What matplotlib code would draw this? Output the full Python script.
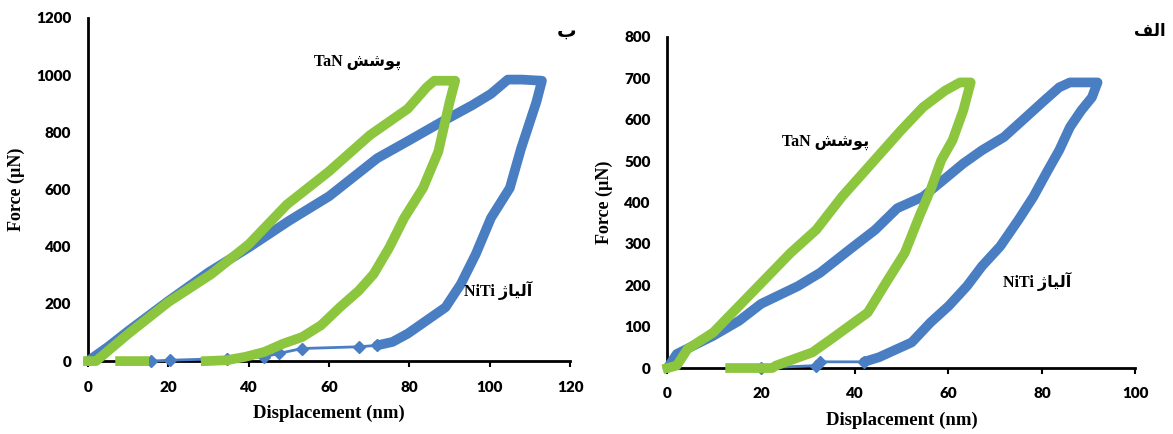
import numpy as np
import matplotlib.pyplot as plt

# ---- data ----
# panel b (left)
b_niti_x = [0, 5, 10, 20, 30, 40, 50, 60, 72, 80, 88, 95.6, 100.3, 104.5, 108, 113,
            111.6, 107.8, 105, 100.3, 96.5, 92.8, 89, 84.3, 79.6, 75.8, 72, 67.4, 53.3,
            47.6, 43.9, 34.5, 20.4, 15.7]
b_niti_y = [0, 50, 105, 210, 310, 397, 490, 576, 709, 772, 836, 894, 934, 984, 984, 980,
            905, 743, 605, 500, 373, 269, 188, 142, 96, 67, 55, 50, 44,
            27, 15, 9, 3, 0]
b_tan_x = [0, 2, 10, 20, 30.7, 40, 49.5, 59.9, 70.2, 79.6, 84.3, 86.2, 91.4,
           90, 87.2, 83.4, 78.7, 75, 71.1, 67.4, 62.7, 58, 53.3, 48.6, 43.9, 39.2, 34.5, 29.3,
           np.nan, 14, 8]
b_tan_y = [0, 0, 95, 206, 304, 408, 547, 662, 790, 882, 957, 980, 980,
           905, 732, 605, 500, 397, 304, 246, 188, 125, 84, 61, 32, 15, 3, 0,
           np.nan, 0, 0]

# panel alef (right)
a_niti_x = [0, 2, 9.8, 15.3, 20, 27.9, 32.6, 38.9, 44.4, 49.1, 54.6, 58.5, 63.2, 67.2,
            71.9, 76.6, 80.5, 83.7, 86, 91.9,
            90.7, 88.4, 86, 83.7, 81.3, 78.2, 75, 71.1, 67.2, 64, 60.1, 56.2, 52.2, 48.3,
            45.2, 42, 32.6, 31.8, 20]
a_niti_y = [0, 34, 78, 114, 155, 198, 230, 286, 334, 386, 414, 450, 494, 526,
            558, 606, 646, 678, 690, 690,
            654, 622, 582, 526, 478, 414, 358, 294, 246, 198, 150, 110, 62, 42,
            26, 15, 15, 6, 0]
a_tan_x = [0, 2, 4.3, 9.8, 15.3, 20.8, 26.3, 31.8, 37.3, 43.6, 49.9, 54.6, 59.3, 62.5, 64.8,
           63.2, 60.9, 58.5, 56.2, 53.8, 50.7, 46.7, 42.8, 38.9, 35, 31, 27.1, 23.2, 22.4, 13.4]
a_tan_y = [0, 6, 46, 86, 150, 214, 278, 334, 414, 494, 574, 630, 670, 690, 690,
           622, 550, 502, 430, 366, 278, 206, 134, 102, 70, 38, 22, 6, 0, 0]

c_blue = '#4a7ec2'
c_green = '#8cc63f'

lbl_tan = 'TaN \ufeb6\ufeb7\ufeee\ufb58'
lbl_niti = 'NiTi \ufb8a\ufe8e\ufbff\ufedf\ufe81'
lbl_b = '\ufe8f'
lbl_alef = '\ufed2\ufedf\ufe8d'

txt_font = ['Liberation Serif', 'DejaVu Sans']

fig = plt.figure(figsize=(11.73, 4.34), dpi=100)
axL = fig.add_axes([0.075, 0.168, 0.411, 0.791])
axR = fig.add_axes([0.569, 0.152, 0.399, 0.763])


def style(ax, xmax, ymax, ystep):
    for s in ['top', 'right']:
        ax.spines[s].set_visible(False)
    for s in ['left', 'bottom']:
        ax.spines[s].set_linewidth(2)
        ax.spines[s].set_color('black')
    ax.set_xlim(0, xmax)
    ax.set_ylim(0, ymax)
    ax.set_xticks(np.arange(0, xmax + 1, 20))
    ax.set_yticks(np.arange(0, ymax + 1, ystep))
    ax.tick_params(axis='x', length=4, width=1.5, direction='out', pad=10)
    ax.tick_params(axis='y', length=0, pad=12)
    for t in ax.get_xticklabels() + ax.get_yticklabels():
        t.set_fontfamily('Lato')
        t.set_fontweight('heavy')
        t.set_fontsize(11)
    ax.set_xlabel('Displacement (nm)', family='Liberation Serif', weight='bold', fontsize=13.5, labelpad=8)
    ax.set_ylabel('Force (\u00b5N)', family='Liberation Serif', weight='bold', fontsize=13, labelpad=8)


# thick loop, thin tail with diamonds for the NiTi unloading end
for ax, nx, ny, tx, ty, cut in [(axL, b_niti_x, b_niti_y, b_tan_x, b_tan_y, 26),
                                (axR, a_niti_x, a_niti_y, a_tan_x, a_tan_y, 35)]:
    ax.plot(nx[:cut + 1], ny[:cut + 1], color=c_blue, lw=7, solid_joinstyle='round',
            solid_capstyle='round', clip_on=False, zorder=3)
    ax.plot(nx[cut:], ny[cut:], color=c_blue, lw=2, marker='D', ms=6, clip_on=False, zorder=3)
    ax.plot(tx, ty, color=c_green, lw=7, solid_joinstyle='round', clip_on=False, zorder=4)

style(axL, 120, 1200, 200)
style(axR, 100, 800, 100)

axL.text(67, 1045, lbl_tan, family=txt_font, weight='bold', fontsize=11.5, ha='center', va='center')
axL.text(102, 246, lbl_niti, family=txt_font, weight='bold', fontsize=11.5, ha='center', va='center')
axL.text(121.5, 1150, lbl_b, family=txt_font, weight='bold', fontsize=14, ha='right', va='center', clip_on=False)

axR.text(33.8, 546, lbl_tan, family=txt_font, weight='bold', fontsize=11.5, ha='center', va='center')
axR.text(79, 210, lbl_niti, family=txt_font, weight='bold', fontsize=11.5, ha='center', va='center')
axR.text(106.5, 812, lbl_alef, family=txt_font, weight='bold', fontsize=12, ha='right', va='center', clip_on=False)

fig.savefig('out.png', dpi=100)
